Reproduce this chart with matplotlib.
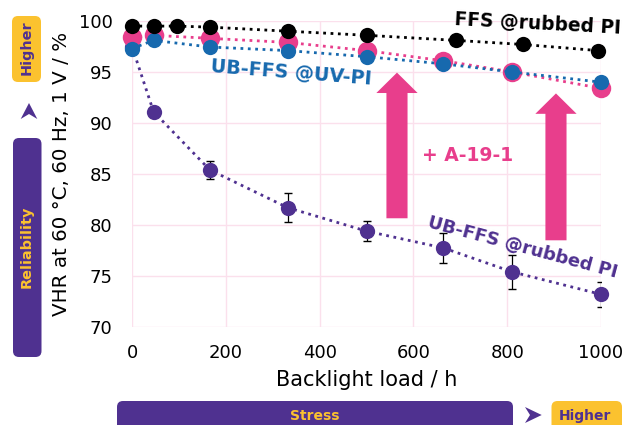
import matplotlib.pyplot as plt
from matplotlib.patches import FancyBboxPatch, FancyArrow, Polygon

# data
hours_ffs = [0, 46, 95, 166, 332, 500, 691, 833, 994]
vhr_ffs_rubbed = [99.5, 99.5, 99.5, 99.4, 99.0, 98.6, 98.1, 97.7, 97.1]

hours = [0, 46, 166, 332, 500, 664, 811, 1000]
vhr_a19 = [98.4, 98.6, 98.3, 97.9, 97.1, 96.1, 95.0, 93.4]
vhr_ub_uv = [97.3, 98.1, 97.45, 97.1, 96.5, 95.8, 95.0, 94.0]
vhr_ub_rubbed = [97.5, 91.1, 85.4, 81.7, 79.4, 77.75, 75.4, 73.2]
err_ub_rubbed = [0, 0.3, 0.9, 1.4, 1.0, 1.5, 1.7, 1.2]

x_ticks = [0, 200, 400, 600, 800, 1000]
y_ticks = [70, 75, 80, 85, 90, 95, 100]

PINK = '#E83E8C'
BLUE = '#1769AE'
PURPLE = '#4F3190'
YELLOW = '#FBC22F'
GRID = '#FBE0EC'

fig = plt.figure(figsize=(6.23, 4.25), dpi=100)
ax = fig.add_axes([132 / 623, 1 - 327 / 425, 469 / 623, 306 / 425])

ax.plot(hours, vhr_a19, ':', color=PINK, lw=2, marker='o', ms=14,
        mec='none', clip_on=False, zorder=3)
ax.plot(hours, vhr_ub_rubbed, ':', color=PURPLE, lw=2, marker='o', ms=11,
        mec='none', clip_on=False, zorder=2)
ax.errorbar(hours, vhr_ub_rubbed, yerr=err_ub_rubbed, fmt='none',
            ecolor='black', elinewidth=0.9, capsize=3, zorder=1.9)
ax.plot(hours, vhr_ub_uv, ':', color=BLUE, lw=2, marker='o', ms=11,
        mec='none', clip_on=False, zorder=4)
ax.plot(hours_ffs, vhr_ffs_rubbed, ':', color='black', lw=2, marker='o', ms=11,
        mec='none', clip_on=False, zorder=5)

# big pink arrows
for x0, y0, y1 in [(565, 80.66, 94.94), (904, 78.5, 92.9)]:
    ax.add_patch(FancyArrow(x0, y0, 0, y1 - y0, width=45, head_width=88,
                            head_length=2.0, length_includes_head=True,
                            color=PINK, lw=0, zorder=2.5))

ax.text(864, 99.75, 'FFS @rubbed PI', color='black', fontsize=13.4,
        fontweight='bold', ha='center', va='center', rotation=-3, zorder=6)
ax.text(339, 94.9, 'UB-FFS @UV-PI', color=BLUE, fontsize=13.8,
        fontweight='bold', ha='center', va='center', rotation=-4.5, zorder=6)
ax.text(832, 77.8, 'UB-FFS @rubbed PI', color=PURPLE, fontsize=13,
        fontweight='bold', ha='center', va='center', rotation=-15, zorder=6)
ax.text(716, 86.8, '+ A-19-1', color=PINK, fontsize=13.5,
        fontweight='bold', ha='center', va='center', zorder=6)

ax.set_xlim(0, 1000)
ax.set_ylim(70, 100)
ax.set_xticks(x_ticks)
ax.set_yticks(y_ticks)
ax.grid(True, color=GRID, lw=1)
ax.set_axisbelow(True)
for s in ax.spines.values():
    s.set_visible(False)
ax.tick_params(length=0, labelsize=13)
ax.tick_params(axis='y', pad=14)
ax.tick_params(axis='x', pad=12)
ax.set_xlabel('Backlight load / h', fontsize=15)
ax.set_ylabel('VHR at 60 °C, 60 Hz, 1 V / %', fontsize=14.3)
ax.xaxis.set_label_coords(0.5, -0.14)
ax.yaxis.set_label_coords(-0.13, 0.5)

# decorations around the axes, in pixel coordinates of the figure
deco = fig.add_axes([0, 0, 1, 1])
deco.set_xlim(0, 623)
deco.set_ylim(425, 0)
deco.axis('off')
deco.patch.set_visible(False)

def box(x0, y0, x1, y1, color):
    deco.add_patch(FancyBboxPatch((x0, y0), x1 - x0, y1 - y0,
                                  boxstyle='round,pad=0,rounding_size=6',
                                  fc=color, ec='none'))

box(12, 16, 41, 82, YELLOW)
deco.text(26.5, 48, 'Higher', rotation=90, color=PURPLE, fontsize=10.4,
          fontweight='bold', ha='center', va='center')
deco.add_patch(Polygon([(20.7, 119), (29, 103), (37.3, 119), (29, 114)],
                       closed=True, fc=PURPLE, ec='none'))
box(13, 138, 41.5, 357, PURPLE)
deco.text(27, 247, 'Reliability', rotation=90, color=YELLOW, fontsize=10.4,
          fontweight='bold', ha='center', va='center')

box(117, 401, 513, 432, PURPLE)
deco.text(315, 416, 'Stress', color=YELLOW, fontsize=10,
          fontweight='bold', ha='center', va='center')
deco.add_patch(Polygon([(525, 407), (541.7, 415), (525, 423), (530, 415)],
                       closed=True, fc=PURPLE, ec='none'))
box(551.5, 401, 622, 432, YELLOW)
deco.text(585, 416, 'Higher', color=PURPLE, fontsize=10,
          fontweight='bold', ha='center', va='center')

fig.savefig('out.png', dpi=100)
